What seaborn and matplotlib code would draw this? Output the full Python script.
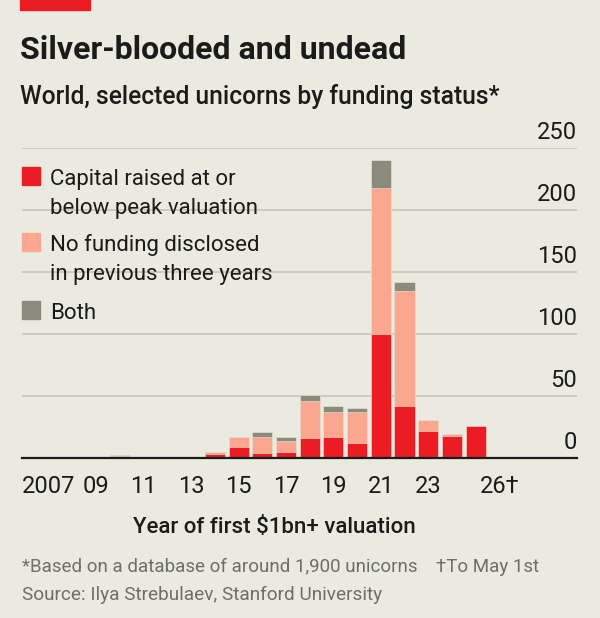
import matplotlib
matplotlib.use("Agg")
import matplotlib.pyplot as plt
from matplotlib.patches import Rectangle
import seaborn as sns
import pandas as pd

# data
years = list(range(2007, 2027))
capital_raised = [0.6, 0, 0, 0.5, 0, 0, 0, 3, 9, 4, 5, 16, 17, 12, 100, 42, 22, 18, 26, 0.6]
no_funding = [0, 0, 0, 1, 0, 0, 0, 1.5, 8, 13, 9, 30, 20, 25, 118, 93, 9, 1, 0, 0]
both = [0, 0, 0, 1, 0, 0, 1, 0, 0, 4, 3, 5, 5, 3, 22, 7, 0, 0, 0, 0]
y_ticks = [0, 50, 100, 150, 200, 250]
x_tick_years = [2007, 2009, 2011, 2013, 2015, 2017, 2019, 2021, 2023, 2026]
x_tick_labels = ["2007", "09", "11", "13", "15", "17", "19", "21", "23", "26\u2020"]
labels = ["Capital raised at or\nbelow peak valuation",
          "No funding disclosed\nin previous three years",
          "Both"]

RED = "#EC1C24"
PINK = "#FBA68F"
GREY = "#8A8A7D"
BG = "#EBEAE0"
INK = "#1B1B1B"

sns.set_style("white")
plt.rcParams["font.family"] = ["Roboto", "DejaVu Sans"]

df = pd.DataFrame({"year": years, "capital": capital_raised,
                   "nofund": no_funding, "both": both})
df["mid"] = df["capital"] + df["nofund"]
df["top"] = df["mid"] + df["both"]

W, H = 600, 618
fig = plt.figure(figsize=(6, 6.18), dpi=100, facecolor=BG)
ax = fig.add_axes([22 / W, 160 / H, 555 / W, 310 / H], facecolor=BG)

# stacked bars: draw cumulative totals from the top down
for col, c in [("top", GREY), ("mid", PINK), ("capital", RED)]:
    sns.barplot(data=df, x="year", y=col, native_scale=True, color=c,
                saturation=1, width=0.85, errorbar=None, ax=ax,
                edgecolor=BG, linewidth=0.4)

ax.set_xlim(2005.86, 2029.28)
ax.set_ylim(0, 250)
ax.set_yticks(y_ticks)
ax.yaxis.grid(True, color="#C9C8BF", lw=1.3)
ax.set_axisbelow(True)
ax.tick_params(axis="y", length=0, labelleft=False)
for v in y_ticks:
    ax.annotate(str(v), xy=(1, v), xycoords=ax.get_yaxis_transform(),
                xytext=(0, 3), textcoords="offset points",
                ha="right", va="bottom", fontsize=17, color=INK)

for s in ["top", "left", "right"]:
    ax.spines[s].set_visible(False)
ax.spines["bottom"].set_color(INK)
ax.spines["bottom"].set_linewidth(1.6)

ax.set_xticks(x_tick_years)
ax.set_xticklabels(x_tick_labels, fontsize=17, color=INK)
ax.set_xticks([y for y in years if y not in x_tick_years], minor=True)
ax.tick_params(axis="x", which="major", length=8.5, width=1.4, color=INK, pad=4)
ax.tick_params(axis="x", which="minor", length=5.8, width=1.4, color=INK)
ax.set_xlabel("")
ax.set_ylabel("")

# legend drawn by hand so the swatch lines up with the first text line
swatch_tops = [167, 233, 301]
for lab, c, top in zip(labels, [RED, PINK, GREY], swatch_tops):
    fig.patches.append(Rectangle((22 / W, 1 - (top + 18) / H), 18 / W, 18 / H,
                                 transform=fig.transFigure, color=c))
    for i, line in enumerate(lab.split("\n")):
        fig.text(50 / W, 1 - (top + 18 + 29 * i) / H, line, fontsize=16,
                 color=INK, va="baseline")

fig.patches.append(Rectangle((20 / W, 1 - 10 / H), 70 / W, 10 / H,
                             transform=fig.transFigure, color=RED))
fig.text(20 / W, 1 - 59 / H, "Silver-blooded and undead", fontsize=23,
         fontweight="bold", color=INK, va="baseline")
fig.text(20 / W, 1 - 104 / H, "World, selected unicorns by funding status*",
         fontsize=17.7, fontweight="medium", color=INK, va="baseline")
fig.text(274 / W, 1 - 533 / H, "Year of first $1bn+ valuation", fontsize=16,
         fontweight="medium", color=INK, va="baseline", ha="center")
fig.text(22 / W, 1 - 572 / H,
         "*Based on a database of around 1,900 unicorns    \u2020To May 1st",
         fontsize=13.5, color="#6E6E6A", va="baseline")
fig.text(22 / W, 1 - 600 / H, "Source: Ilya Strebulaev, Stanford University",
         fontsize=13.7, color="#6E6E6A", va="baseline")

fig.savefig("out.png", dpi=100, facecolor=BG)
